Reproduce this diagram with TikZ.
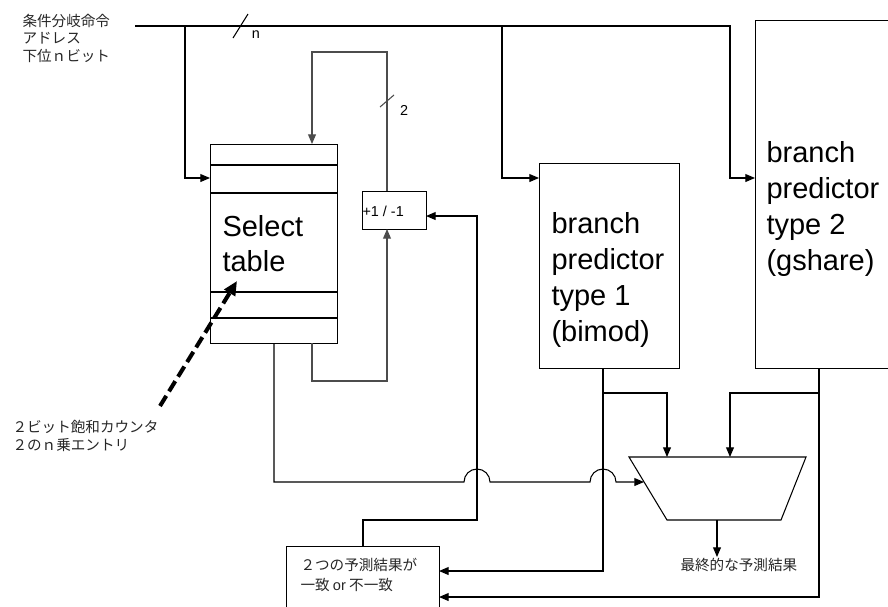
\documentclass[tikz,border=0pt]{standalone}
\usepackage{fontspec}
\setmainfont{Liberation Sans}
\newfontfamily\jp{Noto Sans CJK JP}
\usetikzlibrary{arrows.meta,calc}
\begin{document}
\begin{tikzpicture}[x=0.02cm,y=-0.02cm,
  line width=0.6pt,
  arr/.style={-{Triangle[length=5.5pt,width=4.5pt]}},
  box/.style={draw,inner sep=0,anchor=north west},
  big/.style={font=\fontsize{16.5}{20}\selectfont,anchor=base west,inner sep=0},
  small/.style={font=\fontsize{8.2}{10}\selectfont,inner sep=0},
  jtext/.style={font=\jp\fontsize{8.3}{10}\selectfont,anchor=west,inner sep=0,text=black!85},
  fb/.style={draw=black!70},
]
\useasboundingbox (0,0) rectangle (888,606);
\clip (0,0) rectangle (888,606);

% boxes
\node[box,minimum width=127*0.02cm,minimum height=199*0.02cm] (tbl) at (210,144) {};
\node[box,minimum width=64*0.02cm,minimum height=38*0.02cm] (pm) at (362,191) {};
\node[box,minimum width=140*0.02cm,minimum height=205*0.02cm] (bm) at (539,163) {};
\node[box,minimum width=200*0.02cm,minimum height=348*0.02cm] (gs) at (755,20) {};
\node[box,minimum width=153*0.02cm,minimum height=100*0.02cm] (res) at (286,546) {};
\foreach \yy in {165,193,292,318} \draw (tbl.west |- 0,\yy) -- (tbl.east |- 0,\yy);

% mux
\coordinate (mA) at (629,457);
\coordinate (mB) at (806,457);
\coordinate (mC) at (781,520);
\coordinate (mD) at (667,520);
\draw (mA) -- (mB) -- (mC) -- (mD) -- cycle;

% ports
\coordinate (in0) at (135,26);
\coordinate (j1) at (185,26);
\coordinate (j2) at (502,26);
\coordinate (gsin) at (755,178);
\coordinate (tblin) at (210,178);
\coordinate (bmin) at (539,178);
\coordinate (fbtop) at (387,191);
\coordinate (tbltop) at (312,144);
\coordinate (pmbot) at (387,229);
\coordinate (tblo1) at (274,343);
\coordinate (tblo2) at (312,343);
\coordinate (muxL) at (644,482);
\coordinate (resTop) at (363,546);
\coordinate (pmR) at (426,216);
\coordinate (bmout) at (603,368);
\coordinate (bmbr) at (603,393);
\coordinate (resR1) at (439,571);
\coordinate (muxT1) at (667,457);
\coordinate (gsout) at (819,368);
\coordinate (gsbr) at (819,393);
\coordinate (resR2) at (439,597);
\coordinate (muxT2) at (730,457);
\coordinate (muxout) at (717,520);
\coordinate (fin) at (717,557);
\coordinate (dtail) at (160,406);
\coordinate (dhead) at (237,281);

% connectors
\draw[arr] (in0) -| (730,178) -- (gsin);
\draw[arr] (j1) |- (tblin);
\draw[arr] (j2) |- (bmin);
\draw[arr,fb] (fbtop) -- (387,52) -| (tbltop);
\draw[arr,fb] (tblo2) |- (387,381) -- (pmbot);
\draw[arr] (tblo1) |- (464,482) arc[start angle=180,end angle=360,radius=13]
  -- (590,482) arc[start angle=180,end angle=360,radius=13] -- (muxL);
\draw[arr] (resTop) |- (477,520) -- (477,216) -- (pmR);
\draw[arr] (bmout) |- (resR1);
\draw[arr] (bmbr) -| (muxT1);
\draw[arr] (gsout) |- (resR2);
\draw[arr] (gsbr) -| (muxT2);
\draw[arr] (muxout) -- (fin);
\draw[line width=2.3pt,dash pattern=on 6.8pt off 3pt,-{Triangle[length=8pt,width=7pt]}] (dtail) -- (dhead);

% bus slashes
\draw (233,38) -- (248,14);
\draw[fb] (380,107) -- (394,95);
\node[small] (nlab) at (256,35) {n};
\node[small] (twolab) at (404,110) {2};

% texts
\node[small,anchor=base west] (pmtxt) at (362,216) {+1 / -1};
\node[big] (st1) at (222,236) {Select};
\node[big] (st2) at (222,271) {table};
\node[big] (b1) at (551,233) {branch};
\node[big] (b2) at (551,269) {predictor};
\node[big] (b3) at (551,305) {type 1};
\node[big] (b4) at (551,341) {(bimod)};
\node[big] (g1) at (766,162) {branch};
\node[big] (g2) at (766,198) {predictor};
\node[big] (g3) at (766,234) {type 2};
\node[big] (g4) at (766,270) {(gshare)};

\node[jtext] (la1) at (22,21) {条件分岐命令};
\node[jtext] (la2) at (22,38.5) {アドレス};
\node[jtext] (la3) at (22,56) {下位ｎビット};
\node[jtext] (lc1) at (12,427) {２ビット飽和カウンタ};
\node[jtext] (lc2) at (12,445) {２のｎ乗エントリ};
\node[jtext] (lr1) at (300,565) {２つの予測結果が};
\node[jtext] (lr2) at (300,585) {一致 {\rmfamily or} 不一致};
\node[jtext] (lf) at (680,565) {最終的な予測結果};
\end{tikzpicture}
\end{document}
